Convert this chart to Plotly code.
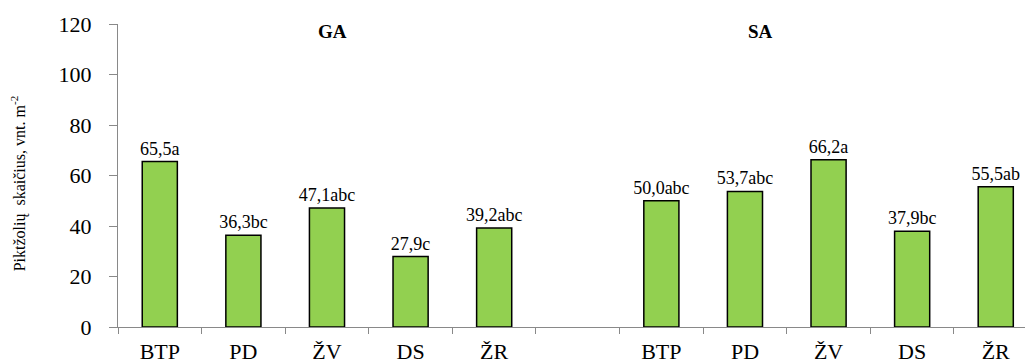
import plotly.graph_objects as go

ZW = "\u200b"
categories = ["BTP", "PD", "ŽV", "DS", "ŽR", ZW + ZW, "BTP" + ZW, "PD" + ZW, "ŽV" + ZW, "DS" + ZW, "ŽR" + ZW]
values = [65.5, 36.3, 47.1, 27.9, 39.2, None, 50.0, 53.7, 66.2, 37.9, 55.5]
labels = ["65,5a", "36,3bc", "47,1abc", "27,9c", "39,2abc", "",
          "50,0abc", "53,7abc", "66,2a", "37,9bc", "55,5ab"]
group_titles = ["GA", "SA"]
y_title = "Piktžolių  skaičius, vnt. m<sup>-2</sup>"

FONT = "Times New Roman"
AXIS_COLOR = "#898989"

fig = go.Figure()
fig.add_trace(go.Bar(
    x=categories, y=values, text=labels,
    textposition="outside", cliponaxis=False, constraintext="none",
    textfont=dict(family=FONT, size=18, color="black"),
    marker=dict(color="#92D050", line=dict(color="black", width=1.5)),
    hoverinfo="skip",
))

fig.update_layout(
    width=1025, height=363,
    margin=dict(l=118, r=0, t=24, b=36),
    paper_bgcolor="white", plot_bgcolor="white",
    showlegend=False, bargap=0.58,
    font=dict(family=FONT, color="black"),
)
fig.update_xaxes(
    type="category", categoryorder="array", categoryarray=categories,
    range=[-0.5, 10.35], automargin=False,
    showline=True, linecolor=AXIS_COLOR, linewidth=1,
    ticks="outside", tickson="boundaries", ticklen=6, tickcolor=AXIS_COLOR,
    tickfont=dict(family=FONT, size=22, color="black"),
    ticklabelstandoff=5,
    showgrid=False, zeroline=False,
)
fig.update_yaxes(
    range=[0, 120], dtick=20, tick0=0, automargin=False,
    showline=True, linecolor=AXIS_COLOR, linewidth=1,
    ticks="outside", ticklen=8, tickcolor=AXIS_COLOR,
    tickfont=dict(family=FONT, size=22, color="black"),
    ticklabelstandoff=13,
    showgrid=False, zeroline=False,
)

fig.add_annotation(text="<b>" + group_titles[0] + "</b>", xref="paper", yref="paper",
                   x=0.236, y=0.974, showarrow=False, xanchor="center", yanchor="middle",
                   font=dict(family=FONT, size=19, color="black"))
fig.add_annotation(text="<b>" + group_titles[1] + "</b>", xref="paper", yref="paper",
                   x=0.708, y=0.974, showarrow=False, xanchor="center", yanchor="middle",
                   font=dict(family=FONT, size=19, color="black"))
fig.add_annotation(text=y_title, xref="paper", yref="paper",
                   x=-0.110, y=0.475, showarrow=False, textangle=-90,
                   xanchor="center", yanchor="middle",
                   font=dict(family=FONT, size=16, color="black"))

fig.write_html("out.html")
